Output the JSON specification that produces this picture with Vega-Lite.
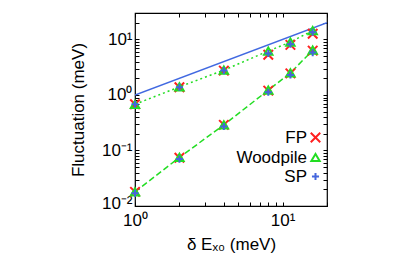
{
  "$schema": "https://vega.github.io/schema/vega-lite/v6.json",
  "width": 192,
  "height": 193,
  "autosize": "none",
  "padding": {"left": 135, "top": 13, "right": 83, "bottom": 56},
  "background": "white",
  "config": {
    "view": {"stroke": "black", "strokeWidth": 1.2},
    "font": "Liberation Sans",
    "axis": {"domain": false, "grid": false, "tickColor": "black", "tickSize": -4, "tickWidth": 1, "labelColor": "black", "labelFont": "Liberation Sans", "labelFontSize": 17, "labelFlush": false, "labelOverlap": false, "titleFont": "Liberation Sans", "titleFontSize": 17, "titleFontWeight": "normal", "titleColor": "black"}
  },
  "datasets": {
    "pts": [
      {"set": "upper", "series": "FP", "x": 1, "y": 0.68},
      {"set": "upper", "series": "FP", "x": 2, "y": 1.38},
      {"set": "upper", "series": "FP", "x": 4, "y": 2.75},
      {"set": "upper", "series": "FP", "x": 8, "y": 5.3},
      {"set": "upper", "series": "FP", "x": 11.3, "y": 8.0},
      {"set": "upper", "series": "FP", "x": 16, "y": 12.7},
      {"set": "lower", "series": "FP", "x": 1, "y": 0.018},
      {"set": "lower", "series": "FP", "x": 2, "y": 0.074},
      {"set": "lower", "series": "FP", "x": 4, "y": 0.29},
      {"set": "lower", "series": "FP", "x": 8, "y": 1.2},
      {"set": "lower", "series": "FP", "x": 11.3, "y": 2.45},
      {"set": "lower", "series": "FP", "x": 16, "y": 6.3},
      {"set": "upper", "series": "Woodpile", "x": 1, "y": 0.68},
      {"set": "upper", "series": "Woodpile", "x": 2, "y": 1.4},
      {"set": "upper", "series": "Woodpile", "x": 4, "y": 2.8},
      {"set": "upper", "series": "Woodpile", "x": 8, "y": 6.2},
      {"set": "upper", "series": "Woodpile", "x": 11.3, "y": 9.0},
      {"set": "upper", "series": "Woodpile", "x": 16, "y": 14.5},
      {"set": "lower", "series": "Woodpile", "x": 1, "y": 0.018},
      {"set": "lower", "series": "Woodpile", "x": 2, "y": 0.075},
      {"set": "lower", "series": "Woodpile", "x": 4, "y": 0.29},
      {"set": "lower", "series": "Woodpile", "x": 8, "y": 1.22},
      {"set": "lower", "series": "Woodpile", "x": 11.3, "y": 2.5},
      {"set": "lower", "series": "Woodpile", "x": 16, "y": 6.4},
      {"set": "upper", "series": "SP", "x": 1, "y": 0.68},
      {"set": "upper", "series": "SP", "x": 2, "y": 1.38},
      {"set": "upper", "series": "SP", "x": 4, "y": 2.75},
      {"set": "upper", "series": "SP", "x": 8, "y": 5.6},
      {"set": "upper", "series": "SP", "x": 11.3, "y": 8.2},
      {"set": "upper", "series": "SP", "x": 16, "y": 13.5},
      {"set": "lower", "series": "SP", "x": 1, "y": 0.017},
      {"set": "lower", "series": "SP", "x": 2, "y": 0.07},
      {"set": "lower", "series": "SP", "x": 4, "y": 0.27},
      {"set": "lower", "series": "SP", "x": 8, "y": 1.12},
      {"set": "lower", "series": "SP", "x": 11.3, "y": 2.3},
      {"set": "lower", "series": "SP", "x": 16, "y": 5.8}
    ],
    "ref": [{"x": 1, "y": 1}, {"x": 20, "y": 20}]
  },
  "resolve": {"axis": {"x": "independent", "y": "independent"}},
  "layer": [
    {
      "data": {"name": "ref"},
      "mark": {"type": "line", "color": "#4169e1", "strokeWidth": 1.5, "clip": true},
      "encoding": {
        "x": {"field": "x", "type": "quantitative", "scale": {"type": "log", "domain": [1, 20], "nice": false},
          "axis": {"orient": "bottom", "title": "δ Eₓ₀ (meV)", "values": [1,2,3,4,5,6,7,8,9,10,20], "labelExpr": "datum.value == 1 ? '10⁰' : datum.value == 10 ? '10¹' : ''", "labelPadding": 10, "titlePadding": 8}},
        "y": {"field": "y", "type": "quantitative", "scale": {"type": "log", "domain": [0.01, 30], "nice": false},
          "axis": {"orient": "left", "title": "Fluctuation (meV)", "values": [0.01,0.02,0.03,0.04,0.05,0.06,0.07,0.08,0.09,0.1,0.2,0.3,0.4,0.5,0.6,0.7,0.8,0.9,1,2,3,4,5,6,7,8,9,10,20], "labelExpr": "datum.value == 0.01 ? '10⁻²' : datum.value == 0.1 ? '10⁻¹' : datum.value == 1 ? '10⁰' : datum.value == 10 ? '10¹' : ''", "labelOffset": {"condition": {"test": "datum.value < 0.011", "value": -3}, "value": 0}, "labelPadding": 7, "titlePadding": 14}}
      }
    },
    {
      "data": {"name": "pts"},
      "transform": [{"filter": "datum.series == 'Woodpile'"}],
      "mark": {"type": "line", "color": "#22dd22", "strokeWidth": 1.5},
      "encoding": {
        "x": {"field": "x", "type": "quantitative", "axis": {"orient": "top", "title": null, "labels": false, "values": [1,2,3,4,5,6,7,8,9,10,20]}},
        "y": {"field": "y", "type": "quantitative", "axis": {"orient": "right", "title": null, "labels": false, "values": [0.01,0.02,0.03,0.04,0.05,0.06,0.07,0.08,0.09,0.1,0.2,0.3,0.4,0.5,0.6,0.7,0.8,0.9,1,2,3,4,5,6,7,8,9,10,20]}},
        "detail": {"field": "set"},
        "strokeDash": {"field": "set", "type": "nominal", "scale": {"domain": ["upper", "lower"], "range": [[2, 3], [6, 3]]}, "legend": null}
      }
    },
    {
      "data": {"name": "pts"},
      "mark": {"type": "point", "filled": false, "strokeWidth": 2, "opacity": 1},
      "encoding": {
        "x": {"field": "x", "type": "quantitative", "axis": null},
        "y": {"field": "y", "type": "quantitative", "axis": null},
        "color": {"field": "series", "type": "nominal", "scale": {"domain": ["FP", "Woodpile", "SP"], "range": ["#ff2020", "#22dd22", "#4466dd"]},
          "legend": {"title": null, "orient": "none", "legendX": 172, "legendY": 116, "padding": 0, "labelAlign": "right", "labelOffset": -17, "labelFontSize": 17, "labelFont": "Liberation Sans", "labelColor": "black", "rowPadding": 1, "symbolStrokeWidth": 2, "symbolSize": 90}},
        "shape": {"field": "series", "type": "nominal", "scale": {"domain": ["FP", "Woodpile", "SP"], "range": ["M-1,-1L1,1M-1,1L1,-1", "triangle-up", "M-1,0L1,0M0,-1L0,1"]}},
        "size": {"field": "series", "type": "nominal", "scale": {"domain": ["FP", "Woodpile", "SP"], "range": [90, 50, 50]}, "legend": null}
      }
    }
  ]
}
